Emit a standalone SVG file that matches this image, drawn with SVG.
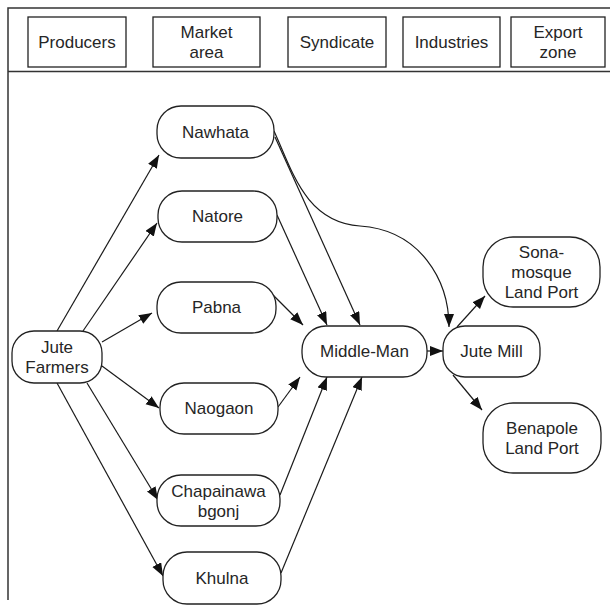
<svg xmlns="http://www.w3.org/2000/svg" width="610" height="607" viewBox="0 0 610 607">
  <style>
    .frame { fill: none; stroke: #333; stroke-width: 1.5; }
    .hbox { fill: #fff; stroke: #222; stroke-width: 1.3; }
    .node { fill: #fff; stroke: #222; stroke-width: 1.3; }
    .lbl { font-family: "Liberation Sans", Arial, sans-serif; font-size: 17px; fill: #262626; text-anchor: middle; }
    .edge { fill: none; stroke: #1a1a1a; stroke-width: 1.2; marker-end: url(#arrow); }
  </style>
  <defs>
    <marker id="arrow" markerUnits="userSpaceOnUse" markerWidth="14" markerHeight="11" refX="13" refY="5" orient="auto">
      <path d="M0,0 L13,5 L0,10 z" fill="#111"/>
    </marker>
  </defs>
  <rect width="610" height="607" fill="#fff"/>

  <!-- page frame and header band -->
  <g id="frame">
    <path class="frame" d="M8,600 V8 H610"/>
    <line class="frame" x1="8" y1="71.5" x2="610" y2="71.5"/>
  </g>

  <!-- header category boxes -->
  <g id="hdr-producers">
    <rect class="hbox" x="28" y="17" width="98" height="50"/>
    <text class="lbl" x="77" y="48">Producers</text>
  </g>
  <g id="hdr-market">
    <rect class="hbox" x="153" y="17" width="107" height="50"/>
    <text class="lbl" x="206.5" y="38">Market</text>
    <text class="lbl" x="206.5" y="58">area</text>
  </g>
  <g id="hdr-syndicate">
    <rect class="hbox" x="288" y="17" width="98" height="50"/>
    <text class="lbl" x="337" y="48">Syndicate</text>
  </g>
  <g id="hdr-industries">
    <rect class="hbox" x="403" y="17" width="97" height="50"/>
    <text class="lbl" x="451.5" y="48">Industries</text>
  </g>
  <g id="hdr-export">
    <rect class="hbox" x="511" y="17" width="94" height="50"/>
    <text class="lbl" x="558" y="38">Export</text>
    <text class="lbl" x="558" y="58">zone</text>
  </g>

  <!-- flow connectors -->
  <g id="connectors">
    <path class="edge" d="M57,331 L159,155"/>
    <path class="edge" d="M83,331 L157,223"/>
    <path class="edge" d="M102,342 L152,313"/>
    <path class="edge" d="M102,366 L159,408"/>
    <path class="edge" d="M87,383 L158,500"/>
    <path class="edge" d="M57,383 L163,576"/>
    <path class="edge" d="M275,137 L360,325"/>
    <path class="edge" d="M274,131 C292,170 305,222 360,226 C420,230 449,280 449,327"/>
    <path class="edge" d="M277,215 L327,325"/>
    <path class="edge" d="M273,295 L303,325"/>
    <path class="edge" d="M278,407 L300,377"/>
    <path class="edge" d="M280,495 L327,377"/>
    <path class="edge" d="M281,573 L362,377"/>
    <path class="edge" d="M422,351 L443,351"/>
    <path class="edge" d="M457,327 L485,296"/>
    <path class="edge" d="M453,375 L482,410"/>
  </g>

  <!-- producers -->
  <g id="jute-farmers">
    <rect class="node" x="12" y="331" width="90" height="52" rx="22" ry="22"/>
    <text class="lbl" x="57" y="353">Jute</text>
    <text class="lbl" x="57" y="373">Farmers</text>
  </g>

  <!-- market areas -->
  <g id="nawhata">
    <rect class="node" x="157" y="106" width="117" height="52" rx="24" ry="24"/>
    <text class="lbl" x="215.5" y="138">Nawhata</text>
  </g>
  <g id="natore">
    <rect class="node" x="158" y="191" width="119" height="51" rx="24" ry="24"/>
    <text class="lbl" x="217.5" y="222">Natore</text>
  </g>
  <g id="pabna">
    <rect class="node" x="157" y="282" width="119" height="51" rx="24" ry="24"/>
    <text class="lbl" x="216.5" y="313">Pabna</text>
  </g>
  <g id="naogaon">
    <rect class="node" x="160" y="383" width="118" height="51" rx="24" ry="24"/>
    <text class="lbl" x="219" y="414">Naogaon</text>
  </g>
  <g id="chapainawabgonj">
    <rect class="node" x="157" y="475" width="123" height="51" rx="24" ry="24"/>
    <text class="lbl" x="218.5" y="497">Chapainawa</text>
    <text class="lbl" x="218.5" y="517">bgonj</text>
  </g>
  <g id="khulna">
    <rect class="node" x="163" y="552" width="118" height="52" rx="24" ry="24"/>
    <text class="lbl" x="222" y="584">Khulna</text>
  </g>

  <!-- syndicate -->
  <g id="middle-man">
    <rect class="node" x="302" y="326" width="125" height="51" rx="24" ry="24"/>
    <text class="lbl" x="364.5" y="357">Middle-Man</text>
  </g>

  <!-- industries -->
  <g id="jute-mill">
    <rect class="node" x="443" y="326" width="97" height="51" rx="22" ry="22"/>
    <text class="lbl" x="491.5" y="357">Jute Mill</text>
  </g>

  <!-- export zone -->
  <g id="sonamosque">
    <rect class="node" x="483" y="237" width="117" height="70" rx="30" ry="30"/>
    <text class="lbl" x="541.5" y="258">Sona-</text>
    <text class="lbl" x="541.5" y="278">mosque</text>
    <text class="lbl" x="541.5" y="298">Land Port</text>
  </g>
  <g id="benapole">
    <rect class="node" x="483" y="403" width="118" height="70" rx="30" ry="30"/>
    <text class="lbl" x="542" y="434">Benapole</text>
    <text class="lbl" x="542" y="454">Land Port</text>
  </g>
</svg>
